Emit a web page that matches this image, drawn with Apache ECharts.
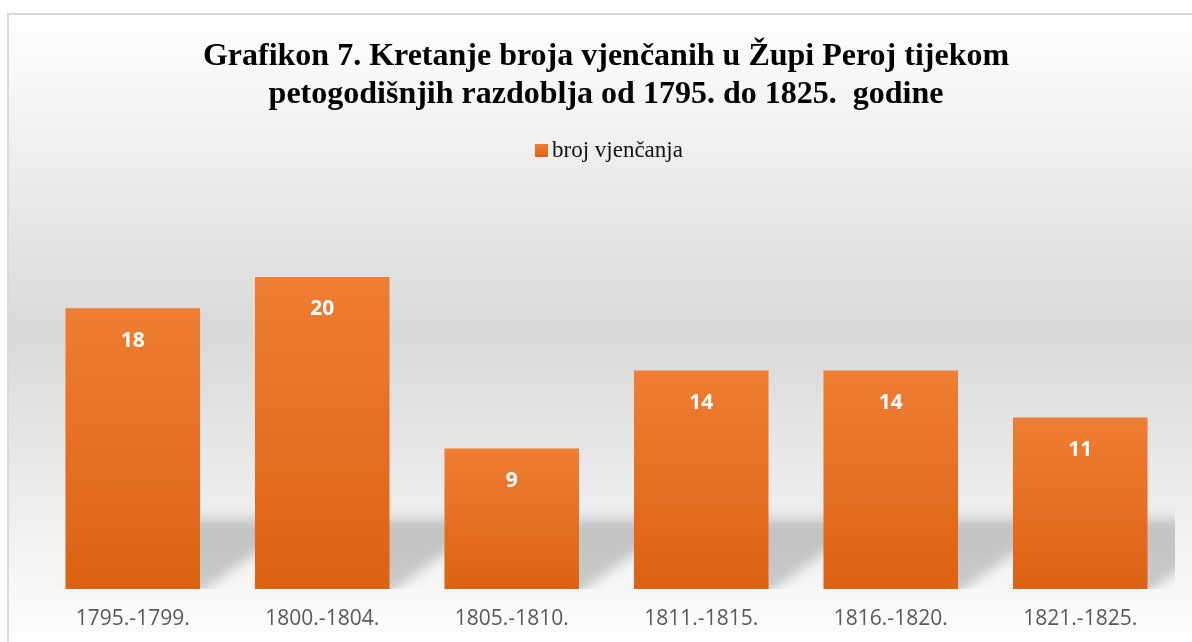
<!DOCTYPE html>
<html>
<head>
<meta charset="utf-8">
<script src="https://cdn.jsdelivr.net/npm/echarts@6/dist/echarts.min.js"></script>
<style>
  html, body { margin: 0; padding: 0; background: #ffffff; }
  #chart { width: 1192px; height: 642px; }
</style>
</head>
<body>
<div id="chart"></div>
<script>
const titleText = 'Grafikon 7. Kretanje broja vjenčanih u Župi Peroj tijekom\npetogodišnjih razdoblja od 1795. do 1825.  godine';
const seriesName = 'broj vjenčanja';
const categories = ['1795.-1799.', '1800.-1804.', '1805.-1810.', '1811.-1815.', '1816.-1820.', '1821.-1825.'];
const values = [18, 20, 9, 14, 14, 11];

const chart = echarts.init(document.getElementById('chart'), null, { renderer: 'canvas' });

const BAR_RATIO = 0.71;
const SHADOW_OFF = 3000;

const option = {
  animation: false,
  backgroundColor: '#ffffff',
  graphic: [{
    type: 'rect',
    z: -10,
    silent: true,
    shape: { x: 8, y: 14, width: 1200, height: 640 },
    style: {
      stroke: '#d9d9d9',
      lineWidth: 2,
      fill: {
        type: 'linear', x: 0, y: 0, x2: 0, y2: 1,
        colorStops: [
          { offset: 0, color: '#ffffff' },
          { offset: 0.5, color: '#d9d9d9' },
          { offset: 0.92, color: '#f9f9f9' },
          { offset: 1, color: '#ffffff' }
        ]
      }
    }
  }],
  title: {
    text: titleText,
    left: 606,
    top: 38,
    padding: 0,
    textAlign: 'center',
    textStyle: {
      fontFamily: 'Liberation Serif',
      fontWeight: 'bold',
      fontSize: 32,
      lineHeight: 38,
      color: '#000000'
    }
  },
  legend: {
    data: [seriesName],
    left: 535,
    top: 139,
    padding: 0,
    itemWidth: 13,
    itemHeight: 13,
    itemGap: 10,
    icon: 'rect',
    textStyle: {
      fontFamily: 'Liberation Serif',
      fontSize: 23,
      color: '#111111',
      padding: [0, 0, 0, -1]
    }
  },
  grid: {
    left: 38,
    right: 17,
    top: 199,
    bottom: 53,
    containLabel: false
  },
  xAxis: {
    type: 'category',
    data: categories,
    axisLine: { show: false },
    axisTick: { show: false },
    axisLabel: {
      margin: 20,
      fontFamily: 'Open Sans',
      fontSize: 21,
      color: '#595959'
    },
    splitLine: { show: false }
  },
  yAxis: {
    type: 'value',
    min: 0,
    max: 25,
    interval: 5,
    show: false,
    splitLine: { show: false }
  },
  series: [
    {
      type: 'custom',
      name: 'shadow',
      z: 1,
      clip: true,
      silent: true,
      data: values.map((v, i) => [i, v]),
      renderItem: function (params, api) {
        const idx = api.value(0);
        const base = api.coord([idx, 0]);
        const bw = api.size([1, 0])[0] * BAR_RATIO;
        const xL = base[0] - bw / 2, xR = base[0] + bw / 2, y0 = base[1];
        const h = 70, dx = 104;
        return {
          type: 'polygon',
          shape: {
            points: [
              [xL - SHADOW_OFF, y0 + 4],
              [xR - SHADOW_OFF, y0 + 4],
              [xR + dx - SHADOW_OFF, y0 - h],
              [xL + dx - SHADOW_OFF, y0 - h]
            ]
          },
          style: {
            fill: '#000000',
            shadowColor: 'rgba(0,0,0,0.19)',
            shadowBlur: 12,
            shadowOffsetX: SHADOW_OFF,
            shadowOffsetY: 0
          }
        };
      }
    },
    {
      type: 'bar',
      name: seriesName,
      z: 2,
      data: values,
      barCategoryGap: '29%',
      itemStyle: {
        color: {
          type: 'linear', x: 0, y: 0, x2: 0, y2: 1,
          colorStops: [
            { offset: 0, color: '#ee7e33' },
            { offset: 1, color: '#dc6213' }
          ]
        }
      },
      label: {
        show: true,
        position: 'insideTop',
        distance: 22,
        fontFamily: 'Open Sans',
        fontWeight: 'bold',
        fontSize: 21,
        color: '#ffffff'
      }
    }
  ]
};

chart.setOption(option);
</script>
</body>
</html>
